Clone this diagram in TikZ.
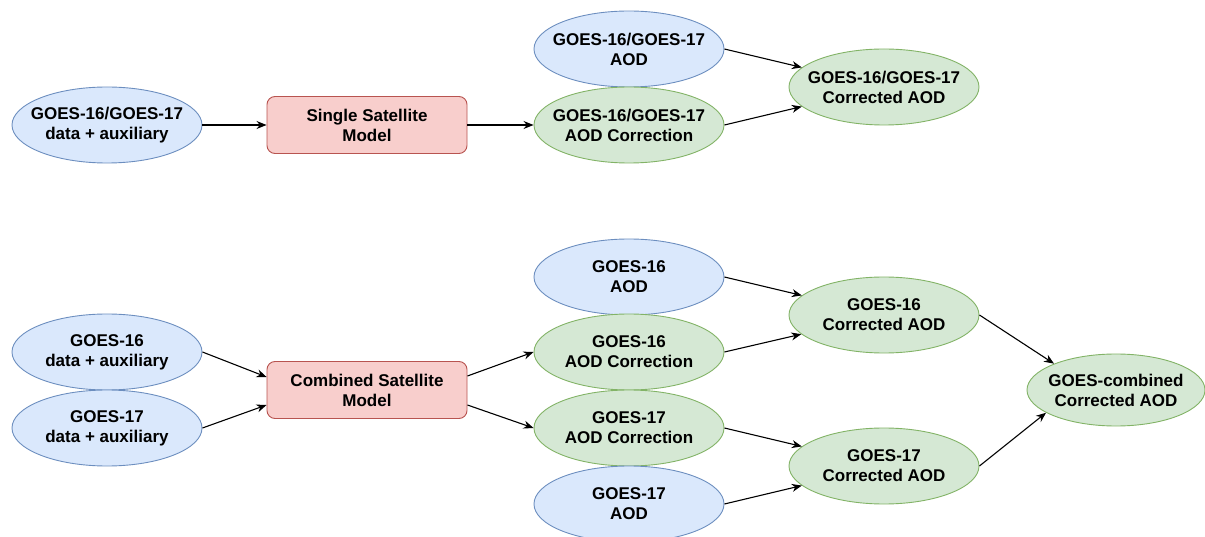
\documentclass[tikz,border=0pt]{standalone}
\usepackage{fontspec}
\setmainfont{Liberation Sans}
\usetikzlibrary{shapes.geometric,arrows.meta}
\definecolor{bfill}{HTML}{DAE8FC}
\definecolor{bdraw}{HTML}{6C8EBF}
\definecolor{gfill}{HTML}{D5E8D4}
\definecolor{gdraw}{HTML}{82B366}
\definecolor{rfill}{HTML}{F8CECC}
\definecolor{rdraw}{HTML}{B85450}
\tikzset{
  ell/.style={ellipse, minimum width=190pt, minimum height=76pt, inner sep=0pt, line width=0.9pt},
  blueell/.style={ell, fill=bfill, draw=bdraw},
  greenell/.style={ell, fill=gfill, draw=gdraw},
  redbox/.style={rectangle, rounded corners=8pt, minimum width=200pt, minimum height=57pt, inner sep=0pt, fill=rfill, draw=rdraw, line width=0.9pt},
  txt/.style={align=center, font=\fontsize{17}{20}\selectfont\bfseries, inner sep=0pt},
  arr/.style={-{Stealth[length=10pt,width=8pt]}, line width=1.1pt, black},
}
\begin{document}
\begin{tikzpicture}[x=1pt,y=-1pt]
\useasboundingbox (0,0) rectangle (1205,537);
% top row
\node[blueell] (tin) at (107,125) {};
\node[txt] (tint) at (tin) {GOES-16/GOES-17\\data + auxiliary};
\node[redbox] (single) at (367,125) {};
\node[txt] (singlet) at (single) {Single Satellite\\Model};
\node[blueell] (taod) at (629,49) {};
\node[txt] (taodt) at (taod) {GOES-16/GOES-17\\AOD};
\node[greenell] (tcor) at (629,125) {};
\node[txt] (tcort) at (tcor) {GOES-16/GOES-17\\AOD Correction};
\node[greenell] (tres) at (884,87) {};
\node[txt] (trest) at (tres) {GOES-16/GOES-17\\Corrected AOD};
\draw[arr] (tin.east) -- (single.west);
\draw[arr] (single.east) -- (tcor.west);
\draw[arr] (taod.east) -- (tres);
\draw[arr] (tcor.east) -- (tres);
% bottom
\node[blueell] (d16) at (107,352) {};
\node[txt] (d16t) at (d16) {GOES-16\\data + auxiliary};
\node[blueell] (d17) at (107,428) {};
\node[txt] (d17t) at (d17) {GOES-17\\data + auxiliary};
\node[redbox] (comb) at (367,390) {};
\node[txt] (combt) at (comb) {Combined Satellite\\Model};
\node[blueell] (a16) at (629,277) {};
\node[txt] (a16t) at (a16) {GOES-16\\AOD};
\node[greenell] (c16) at (629,352) {};
\node[txt] (c16t) at (c16) {GOES-16\\AOD Correction};
\node[greenell] (c17) at (629,428) {};
\node[txt] (c17t) at (c17) {GOES-17\\AOD Correction};
\node[blueell] (a17) at (629,504) {};
\node[txt] (a17t) at (a17) {GOES-17\\AOD};
\node[greenell] (r16) at (884,315) {};
\node[txt] (r16t) at (r16) {GOES-16\\Corrected AOD};
\node[greenell] (r17) at (884,466) {};
\node[txt] (r17t) at (r17) {GOES-17\\Corrected AOD};
\node[greenell, minimum width=178pt, minimum height=72pt] (rc) at (1116,390) {};
\node[txt] (rct) at (rc) {GOES-combined\\Corrected AOD};
\draw[arr] (d16.east) -- ([yshift=13pt]comb.west);
\draw[arr] (d17.east) -- ([yshift=-15pt]comb.west);
\draw[arr] ([yshift=14pt]comb.east) -- (c16.west);
\draw[arr] ([yshift=-15pt]comb.east) -- (c17.west);
\draw[arr] (a16.east) -- (r16);
\draw[arr] (c16.east) -- (r16);
\draw[arr] (c17.east) -- (r17);
\draw[arr] (a17.east) -- (r17);
\draw[arr] (r16.east) -- (rc.157);
\draw[arr] (r17.east) -- (rc.198);
\end{tikzpicture}
\end{document}
